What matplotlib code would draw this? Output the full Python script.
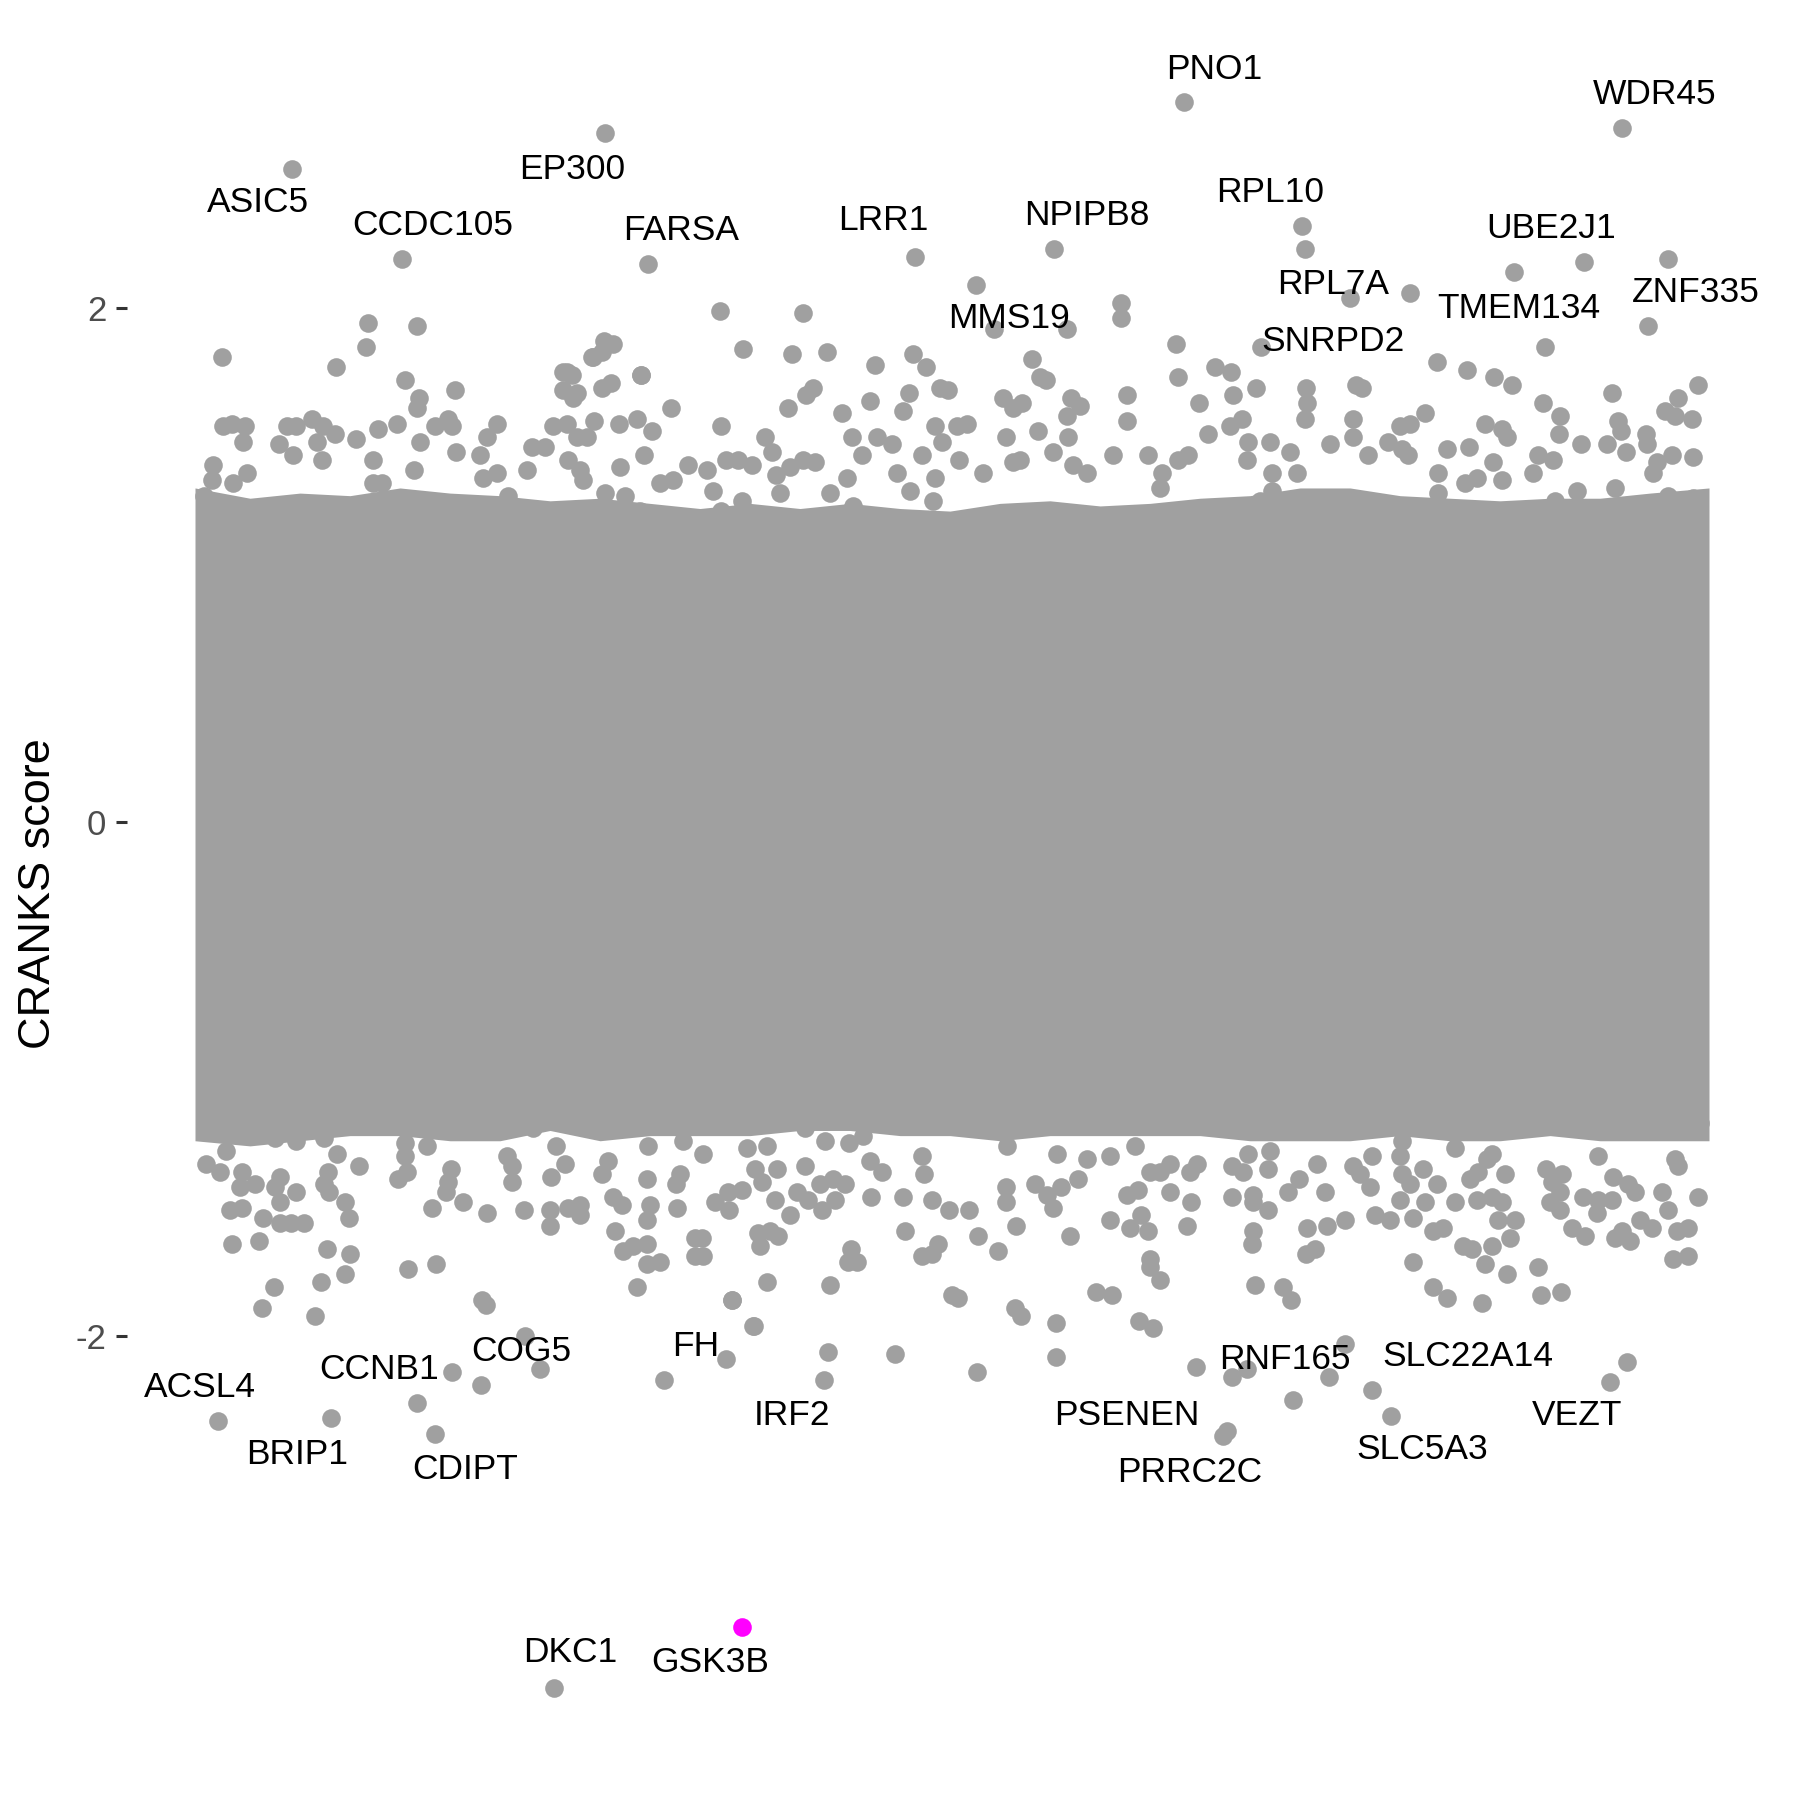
import numpy as np
import matplotlib
matplotlib.use("Agg")
import matplotlib.pyplot as plt

# gene position in the (shuffled) gene list vs CRANKS score
# genes with labels: (name, position, score)
labelled_genes = [
    ("ASIC5", 916, 2.54), ("EP300", 4045, 2.68), ("CCDC105", 2024, 2.19),
    ("FARSA", 4480, 2.17), ("LRR1", 7155, 2.20), ("PNO1", 9836, 2.80),
    ("WDR45", 14222, 2.70), ("NPIPB8", 8544, 2.23), ("RPL10", 11018, 2.32),
    ("MMS19", 7758, 2.09), ("RPL7A", 11495, 2.04), ("UBE2J1", 13843, 2.18),
    ("TMEM134", 13452, 1.85), ("ZNF335", 14480, 1.93), ("SNRPD2", 10605, 1.85),
    ("ACSL4", 180, -2.33), ("BRIP1", 1307, -2.32), ("CCNB1", 2173, -2.26),
    ("CDIPT", 2346, -2.38), ("COG5", 2524, -2.14), ("FH", 4642, -2.17),
    ("IRF2", 6238, -2.17), ("PSENEN", 9956, -2.12), ("PRRC2C", 10226, -2.39),
    ("RNF165", 10473, -2.13), ("SLC22A14", 11724, -2.21), ("SLC5A3", 11908, -2.31),
    ("VEZT", 14100, -2.18), ("DKC1", 3540, -3.37),
]
highlight = ("GSK3B", 5417, -3.13)

# where ggrepel put the label text (position, score)
label_pos = {
    "ASIC5": (580, 2.41), "EP300": (3720, 2.54), "CCDC105": (2330, 2.32),
    "FARSA": (4814, 2.30), "LRR1": (6830, 2.34), "PNO1": (10146, 2.93),
    "WDR45": (14550, 2.83), "NPIPB8": (8871, 2.36), "RPL10": (10697, 2.45),
    "MMS19": (8090, 1.96), "RPL7A": (11334, 2.09), "UBE2J1": (13516, 2.31),
    "TMEM134": (13188, 2.00), "ZNF335": (14962, 2.06), "SNRPD2": (11334, 1.87),
    "ACSL4": (0, -2.20), "BRIP1": (974, -2.46), "CCNB1": (1789, -2.13),
    "CDIPT": (2650, -2.52), "COG5": (3212, -2.06), "FH": (4958, -2.04),
    "IRF2": (5922, -2.31), "PSENEN": (9267, -2.31), "PRRC2C": (9900, -2.53),
    "RNF165": (10846, -2.09), "SLC22A14": (12683, -2.08), "SLC5A3": (12224, -2.44),
    "VEZT": (13774, -2.31), "DKC1": (3700, -3.23), "GSK3B": (5100, -3.27),
}

# unlabelled genes in the upper tail
upper_tail = [
    (1680, 1.94), (2170, 1.93), (5200, 1.99), (6025, 1.98), (1657, 1.85), (216, 1.81),
    (5434, 1.84), (4040, 1.87), (4125, 1.86), (5922, 1.82), (6272, 1.83), (6748, 1.78),
    (1358, 1.77), (4406, 1.74), (2053, 1.72), (3924, 1.81), (2546, 1.68), (3672, 1.75),
    (11053, 2.23), (7936, 1.92), (8665, 1.92), (12098, 2.06), (13142, 2.14), (14681, 2.19),
    (9210, 2.02), (9210, 1.96), (9755, 1.86), (7126, 1.82), (7258, 1.77), (8320, 1.80),
    (8464, 1.72), (12367, 1.79), (12672, 1.76), (12941, 1.73), (13120, 1.70), (10146, 1.77),
    (10312, 1.75), (11064, 1.69), (11564, 1.70), (14980, 1.70), (14118, 1.67), (7086, 1.67),
    (7402, 1.69), (8033, 1.65), (8711, 1.65), (9267, 1.66), (9784, 1.73), (10559, 1.69),
    (9985, 1.63), (10330, 1.66), (13429, 1.63), (14778, 1.65),
    (2190, 1.65), (2170, 1.61), (3927, 1.81), (4017, 1.83), (3633, 1.75), (3717, 1.74),
    (3633, 1.68), (3767, 1.67), (3733, 1.65), (4017, 1.69), (4107, 1.71), (4410, 1.74),
    (4710, 1.61), (233, 1.54), (317, 1.55), (450, 1.54), (433, 1.48), (133, 1.39),
    (117, 1.33), (40, 1.27), (333, 1.32), (467, 1.36), (867, 1.54), (960, 1.54),
    (1117, 1.57), (1233, 1.54), (1350, 1.51), (1167, 1.48), (1217, 1.41), (790, 1.47),
    (933, 1.43), (1560, 1.49), (1783, 1.53), (1973, 1.55), (2200, 1.48), (2350, 1.54),
    (2483, 1.57), (2517, 1.54), (1733, 1.41), (2140, 1.37), (2560, 1.44), (2967, 1.55),
    (2867, 1.50), (2800, 1.43), (3533, 1.54), (3667, 1.55), (3767, 1.50), (3943, 1.56),
    (3873, 1.50), (4193, 1.55), (4373, 1.57), (4517, 1.52), (4440, 1.43), (3317, 1.46),
    (3450, 1.46), (3267, 1.37), (3683, 1.41), (3800, 1.37), (3833, 1.33), (4200, 1.38),
    (4883, 1.39), (4600, 1.32), (4733, 1.33), (4400, 1.21), (4050, 1.28), (4250, 1.27),
    (1733, 1.32), (1817, 1.32), (2967, 1.36), (2833, 1.34), (3083, 1.27),
    (8400, 1.73), (9267, 1.56), (6133, 1.69), (6060, 1.66), (5883, 1.61), (6417, 1.59),
    (6700, 1.64), (7027, 1.60), (7483, 1.68), (8217, 1.63), (8133, 1.61), (8800, 1.62),
    (8667, 1.58), (5207, 1.54), (5650, 1.50), (5717, 1.44), (6523, 1.50), (6767, 1.50),
    (6917, 1.47), (6617, 1.43), (7350, 1.54), (7567, 1.54), (7667, 1.55), (7423, 1.48),
    (8060, 1.50), (8383, 1.52), (8683, 1.50), (8533, 1.44), (9483, 1.43), (9133, 1.43),
    (9783, 1.41), (9883, 1.43), (10083, 1.51), (6033, 1.41), (6150, 1.40), (5900, 1.38),
    (5760, 1.35), (5260, 1.41), (5383, 1.41), (5517, 1.39), (7217, 1.43), (7350, 1.34),
    (7333, 1.25), (6967, 1.36), (7100, 1.29), (7593, 1.41), (7833, 1.36), (8200, 1.41),
    (8133, 1.40), (9617, 1.36), (9600, 1.30), (8867, 1.36), (8733, 1.39), (6300, 1.28),
    (6467, 1.34), (6533, 1.23), (5800, 1.28), (5067, 1.37), (5133, 1.29), (5207, 1.21),
    (5417, 1.25),
    (11073, 1.63), (11050, 1.57), (11617, 1.69), (11527, 1.57), (10417, 1.57), (13600, 1.58),
    (13593, 1.51), (14650, 1.60), (14750, 1.58), (14917, 1.57), (14183, 1.56), (14210, 1.52),
    (14460, 1.51), (14467, 1.47), (12250, 1.59), (12100, 1.55), (12000, 1.54), (12850, 1.55),
    (13017, 1.53), (13067, 1.50), (13807, 1.47), (14067, 1.47), (14260, 1.44), (13383, 1.43),
    (13533, 1.41), (13327, 1.36), (14927, 1.42), (14717, 1.43), (14567, 1.40), (12933, 1.40),
    (13017, 1.33), (12467, 1.45), (12693, 1.46), (12017, 1.45), (12083, 1.43), (10900, 1.44),
    (10700, 1.48), (10483, 1.48), (10467, 1.41), (10300, 1.54), (11300, 1.47), (11533, 1.50),
    (11683, 1.43), (11883, 1.48), (13767, 1.29), (13550, 1.25), (14150, 1.30), (14683, 1.27),
    (14933, 1.26), (14533, 1.36), (12383, 1.36), (12383, 1.28), (12650, 1.32), (12767, 1.34),
    (10717, 1.36), (10717, 1.29), (10967, 1.36), (10600, 1.25),
]

# unlabelled genes in the lower tail
lower_tail = [
    (257, -1.28), (60, -1.33), (200, -1.36), (417, -1.36), (400, -1.42), (550, -1.41),
    (800, -1.38), (750, -1.42), (800, -1.48), (960, -1.44), (300, -1.51), (417, -1.50),
    (633, -1.54), (800, -1.56), (907, -1.56), (1040, -1.56), (323, -1.64), (593, -1.63),
    (740, -1.81), (617, -1.89), (1150, -1.92), (1210, -1.79), (1450, -1.76), (1270, -1.66),
    (1497, -1.68), (1243, -1.23), (1367, -1.29), (1283, -1.36), (1240, -1.41), (1293, -1.44),
    (1450, -1.48), (1493, -1.54), (1593, -1.34), (960, -1.24), (2083, -1.74), (2360, -1.72),
    (2817, -1.86), (2857, -1.88), (2323, -1.50), (2627, -1.48), (2873, -1.52), (3240, -1.51),
    (3500, -1.51), (3500, -1.57), (3683, -1.50), (3800, -1.49), (3800, -1.53), (1983, -1.39),
    (2067, -1.36), (2050, -1.30), (2050, -1.25), (2267, -1.26), (2507, -1.35), (2483, -1.40),
    (2457, -1.44), (3117, -1.40), (3117, -1.34), (3067, -1.30), (3507, -1.38), (3327, -1.19),
    (3560, -1.26), (3650, -1.33), (4017, -1.37), (4083, -1.32), (4177, -1.19), (4483, -1.26),
    (4467, -1.39), (4500, -1.49), (4467, -1.55), (4467, -1.64), (4600, -1.71), (4467, -1.72),
    (4133, -1.46), (4217, -1.49), (4150, -1.59), (4233, -1.67), (4333, -1.65), (4367, -1.81),
    (4767, -1.50), (4800, -1.37), (4760, -1.41), (4950, -1.62), (4950, -1.69), (4883, -1.17),
    (4833, -1.24), (93, -1.18), (383, -1.18), (750, -1.23), (617, -1.21),
    (5033, -1.29), (5150, -1.48), (5293, -1.51), (5283, -1.44), (5417, -1.43), (5017, -1.62),
    (5033, -1.69), (5317, -1.86), (5533, -1.96), (5667, -1.79), (5583, -1.60), (5700, -1.59),
    (5783, -1.61), (5600, -1.65), (5467, -1.27), (5667, -1.26), (5550, -1.35), (5767, -1.35),
    (5617, -1.40), (5750, -1.47), (5900, -1.53), (6050, -1.19), (6250, -1.24), (6050, -1.34),
    (5967, -1.44), (6083, -1.47), (6200, -1.41), (6333, -1.39), (6450, -1.41), (6350, -1.47),
    (6217, -1.51), (6510, -1.66), (6483, -1.71), (6567, -1.71), (6300, -1.80), (6493, -1.25),
    (6633, -1.22), (6700, -1.32), (6817, -1.36), (6707, -1.46), (7033, -1.46), (7050, -1.59),
    (7323, -1.47), (7493, -1.51), (7693, -1.51), (7383, -1.64), (7217, -1.69), (7317, -1.68),
    (7517, -1.84), (7577, -1.85), (7783, -1.61), (7977, -1.67), (8150, -1.89), (8207, -1.92),
    (8560, -1.95), (8060, -1.42), (8060, -1.48), (8157, -1.57), (8350, -1.41), (8467, -1.45),
    (8527, -1.50), (8610, -1.42), (8783, -1.39), (8573, -1.29), (8867, -1.31), (9100, -1.30),
    (8700, -1.61), (8960, -1.83), (9123, -1.84), (9100, -1.55), (9300, -1.58), (9483, -1.59),
    (9407, -1.53), (9500, -1.70), (9500, -1.73), (9600, -1.78), (9393, -1.94), (9533, -1.97),
    (9273, -1.45), (9383, -1.43), (9700, -1.44), (9907, -1.48), (9873, -1.57), (9350, -1.26),
    (9500, -1.36), (9600, -1.36), (9700, -1.33), (9900, -1.36), (9967, -1.33), (7217, -1.30),
    (7243, -1.37), (8067, -1.26),
    (10317, -1.46), (10533, -1.45), (10533, -1.48), (10683, -1.51), (10317, -1.34), (10433, -1.36),
    (10683, -1.35), (10700, -1.28), (10483, -1.29), (10533, -1.59), (10523, -1.64), (10550, -1.80),
    (10833, -1.81), (10907, -1.86), (11073, -1.58), (11273, -1.57), (11450, -1.55), (11150, -1.66),
    (11060, -1.68), (10883, -1.44), (10993, -1.39), (11250, -1.44), (11167, -1.33), (11533, -1.34),
    (11717, -1.30), (11600, -1.37), (11700, -1.42), (11750, -1.53), (11900, -1.55), (12017, -1.37),
    (12100, -1.41), (12000, -1.47), (12000, -1.30), (12017, -1.24), (12133, -1.54), (12250, -1.48),
    (12233, -1.35), (12367, -1.41), (12327, -1.59), (12427, -1.58), (12133, -1.71), (12333, -1.81),
    (12467, -1.85), (12550, -1.48), (12550, -1.27), (12700, -1.39), (12783, -1.36), (12867, -1.31),
    (12917, -1.29), (12767, -1.47), (12917, -1.46), (13017, -1.48), (13050, -1.37), (12983, -1.55),
    (13150, -1.55), (13100, -1.62), (12633, -1.65), (12717, -1.66), (12850, -1.72), (12917, -1.65),
    (12823, -1.87), (13073, -1.76), (13383, -1.73), (13407, -1.84), (13607, -1.83), (13460, -1.35),
    (13617, -1.37), (13517, -1.40), (13600, -1.44), (13500, -1.48), (13600, -1.51), (13717, -1.58),
    (13850, -1.61), (13833, -1.46), (13983, -1.47), (14117, -1.47), (13967, -1.52), (14133, -1.38),
    (14283, -1.41), (14350, -1.44), (13983, -1.30), (14150, -1.62), (14300, -1.63), (14217, -1.59),
    (14400, -1.55), (14517, -1.58), (14617, -1.44), (14683, -1.51), (14767, -1.59), (14883, -1.58),
    (14727, -1.70), (14883, -1.69), (14983, -1.46), (14750, -1.31), (14783, -1.34), (15000, -1.17),
    (2810, -2.19), (3396, -2.13), (3253, -2.00), (5262, -2.09), (6278, -2.06), (5537, -1.96),
    (5320, -1.86), (6955, -2.07), (7775, -2.14), (8560, -2.08), (10272, -2.37), (10318, -2.16),
    (10932, -2.25), (11288, -2.16), (11449, -2.03), (14273, -2.10),
]

# the bulk of the ~13000 genes overlaps into a solid band; its outline
core_pos = [-50, 500, 1000, 1500, 2000, 2500, 3000, 3500, 4000, 4500, 5000,
            5500, 6000, 6500, 7000, 7500, 8000, 8500, 9000, 9500, 10000,
            10500, 11000, 11500, 12000, 12500, 13000, 13500, 14000, 14500, 15090]
core_top = [1.30, 1.26, 1.28, 1.27, 1.30, 1.28, 1.27, 1.25, 1.26, 1.24, 1.22,
            1.24, 1.22, 1.24, 1.22, 1.21, 1.24, 1.25, 1.23, 1.24, 1.26,
            1.27, 1.30, 1.30, 1.27, 1.26, 1.25, 1.26, 1.26, 1.28, 1.30]
core_bottom = [-1.24, -1.26, -1.24, -1.22, -1.22, -1.24, -1.24, -1.20, -1.24, -1.22, -1.22,
               -1.22, -1.20, -1.20, -1.22, -1.22, -1.24, -1.22, -1.22, -1.22, -1.22,
               -1.24, -1.24, -1.24, -1.22, -1.24, -1.24, -1.22, -1.24, -1.24, -1.24]

ytick_vals = [-2, 0, 2]
ytick_text = ["-2", "0", "2"]

grey = "#a0a0a0"
font = "Liberation Sans"

fig = plt.figure(figsize=(18, 18), dpi=100)
ax = fig.add_axes([127 / 1800, 36 / 1800, 1648 / 1800, 1742 / 1800])

ax.fill_between(core_pos, core_bottom, core_top, color=grey, linewidth=0)

tails = np.array(upper_tail + lower_tail)
ax.scatter(tails[:, 0], tails[:, 1], s=180, c=grey, linewidths=0)
lab = np.array([[g[1], g[2]] for g in labelled_genes])
ax.scatter(lab[:, 0], lab[:, 1], s=180, c=grey, linewidths=0)
ax.scatter([highlight[1]], [highlight[2]], s=180, c="#ff00ff", linewidths=0, zorder=3)

for name, (lx, ly) in label_pos.items():
    ax.text(lx, ly, name, ha="center", va="center", fontsize=25.5,
            family=font, color="black", zorder=4)

ax.set_xlim(-730, 15750)
ax.set_ylim(-3.665, 3.113)
ax.set_xticks([])
ax.set_yticks(ytick_vals)
ax.set_yticklabels(ytick_text, family=font)
ax.tick_params(axis="y", length=8, width=2.2, color="#333333", pad=7,
               labelsize=25, labelcolor="#4d4d4d")
for s in ax.spines.values():
    s.set_visible(False)

fig.text(39 / 1800, 1 - 894 / 1800, "CRANKS score", rotation=90, ha="center",
         va="center", fontsize=32.5, family=font)

fig.savefig("out.png", dpi=100, facecolor="white")
